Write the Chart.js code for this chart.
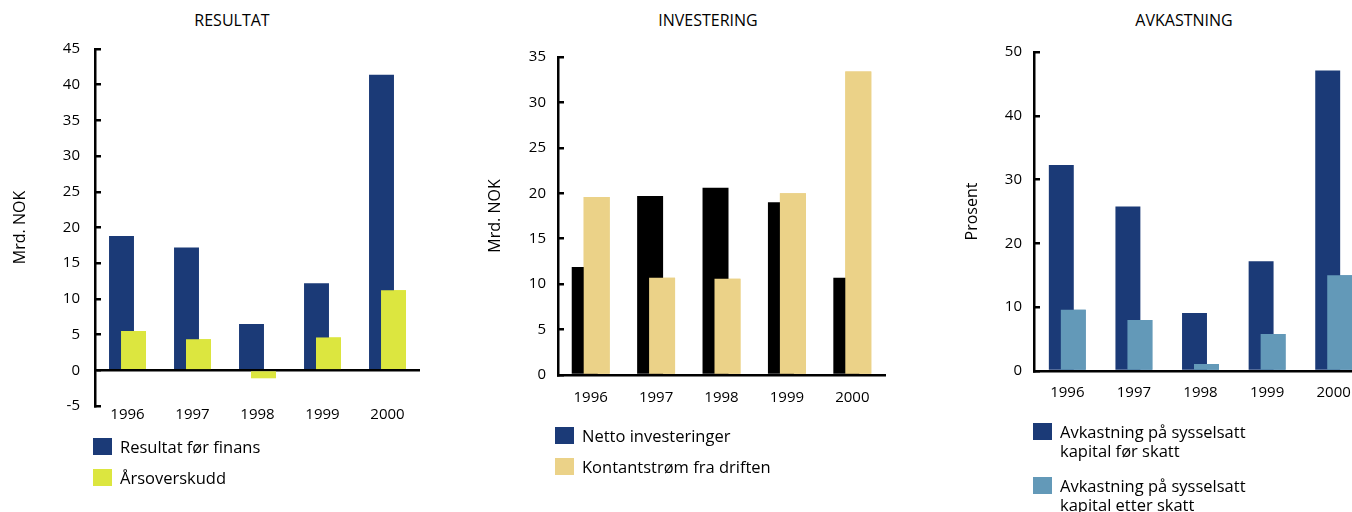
<!DOCTYPE html>
<html>
<head>
<meta charset="utf-8">
<script src="https://cdn.jsdelivr.net/npm/chart.js@4.4.1/dist/chart.umd.min.js"></script>
<style>
    html, body { margin: 0; padding: 0; background: #fff; }
    body { width: 1352px; height: 512px; position: relative; overflow: hidden; font-family: "Open Sans", sans-serif; color: #000; }
    canvas { position: absolute; top: 0; }
    .title { position: absolute; top: 10px; font-size: 16px; line-height: 20px; transform: translateX(-50%); white-space: nowrap; }
    .legend-item { position: absolute; display: flex; align-items: flex-start; font-size: 16.5px; line-height: 18.5px; white-space: nowrap; }
    .swatch { width: 19px; height: 17px; margin-right: 8px; flex: none; }
</style>
</head>
<body>
<div class="title" style="left:232px">RESULTAT</div>
<div class="title" style="left:708px">INVESTERING</div>
<div class="title" style="left:1184px">AVKASTNING</div>

<canvas id="resultatChart" width="450" height="440" style="left:0px"></canvas>
<canvas id="investeringChart" width="440" height="440" style="left:470px"></canvas>
<canvas id="avkastningChart" width="430" height="440" style="left:940px"></canvas>

<div class="legend-item" style="left:93px;top:438px"><span class="swatch" style="background:#1b3a77"></span><span>Resultat før finans</span></div>
<div class="legend-item" style="left:93px;top:469px"><span class="swatch" style="background:#dce63f"></span><span>Årsoverskudd</span></div>

<div class="legend-item" style="left:555px;top:427px"><span class="swatch" style="background:#1b3a77"></span><span>Netto investeringer</span></div>
<div class="legend-item" style="left:555px;top:458px"><span class="swatch" style="background:#ebd288"></span><span>Kontantstrøm fra driften</span></div>

<div class="legend-item" style="left:1033px;top:423px"><span class="swatch" style="background:#1b3a77"></span><span>Avkastning på sysselsatt<br>kapital før skatt</span></div>
<div class="legend-item" style="left:1033px;top:477px"><span class="swatch" style="background:#6399b8"></span><span>Avkastning på sysselsatt<br>kapital etter skatt</span></div>

<script>
    // Values
    const years = ["1996", "1997", "1998", "1999", "2000"];

    // RESULTAT (Mrd. NOK)
    const resultatForFinans = [18.8, 17.2, 6.5, 12.2, 41.4];
    const arsoverskudd = [5.5, 4.35, -1.1, 4.6, 11.2];
    const resultatTicks = { min: -5, max: 45, step: 5 };

    // INVESTERING (Mrd. NOK)
    const nettoInvesteringer = [11.9, 19.7, 20.6, 19.0, 10.7];
    const kontantstromDriften = [19.6, 10.7, 10.6, 20.0, 33.4];
    const investeringTicks = { min: 0, max: 35, step: 5 };

    // AVKASTNING (Prosent)
    const avkastningForSkatt = [32.3, 25.8, 9.1, 17.2, 47.1];
    const avkastningEtterSkatt = [9.6, 8.0, 1.1, 5.8, 15.0];
    const avkastningTicks = { min: 0, max: 50, step: 10 };

    Chart.defaults.font.family = "'Open Sans', sans-serif";
    Chart.defaults.color = "#000";

    // the right-hand bar of each pair sits over the left one
    const secondOnTop = {
        id: "secondOnTop",
        afterDatasetsDraw(chart) {
            const ctx = chart.ctx;
            ctx.save();
            chart.getDatasetMeta(1).data.forEach(bar => bar.draw(ctx));
            ctx.restore();
        }
    };

    function buildPanel(canvasId, cfg) {
        return new Chart(document.getElementById(canvasId), {
            type: "bar",
            data: {
                labels: years,
                datasets: cfg.series.map(s => ({
                    label: s.label,
                    data: s.data,
                    backgroundColor: s.color,
                    borderWidth: 0,
                    categoryPercentage: cfg.catPct,
                    barPercentage: cfg.barPct
                }))
            },
            options: {
                responsive: false,
                animation: false,
                events: [],
                layout: { padding: { top: cfg.top, right: cfg.right, bottom: 0, left: 0 } },
                plugins: { legend: { display: false }, tooltip: { enabled: false } },
                scales: {
                    x: {
                        offset: true,
                        z: 1,
                        grid: { display: false, drawTicks: false },
                        border: { display: cfg.xBorder, color: "#000", width: 2.5 },
                        ticks: { padding: cfg.xPad, font: { size: 15 }, maxRotation: 0 },
                        afterFit: s => { s.height = cfg.xHeight; }
                    },
                    y: {
                        min: cfg.ticks.min,
                        max: cfg.ticks.max,
                        z: 1,
                        ticks: { stepSize: cfg.ticks.step, padding: cfg.yPad, font: { size: 15 } },
                        border: { color: "#000", width: 2.5 },
                        grid: {
                            drawOnChartArea: cfg.zeroLine,
                            color: c => (c.tick && c.tick.value === 0 ? "#000" : "rgba(0,0,0,0)"),
                            lineWidth: 2.5,
                            tickLength: -6,
                            tickColor: "#000",
                            tickWidth: 2.5
                        },
                        title: { display: true, text: cfg.yTitle, font: { size: 16 }, padding: { top: cfg.titlePad, bottom: 0 } },
                        afterFit: s => { s.width = cfg.yWidth; }
                    }
                }
            },
            plugins: [secondOnTop]
        });
    }

    buildPanel("resultatChart", {
        series: [
            { label: "Resultat før finans", data: resultatForFinans, color: "#1b3a77" },
            { label: "Årsoverskudd", data: arsoverskudd, color: "#dce63f" }
        ],
        ticks: resultatTicks,
        yTitle: "Mrd. NOK",
        catPct: 0.369, barPct: 2.08,
        top: 49, right: 30, yWidth: 95, xHeight: 34,
        xPad: 0, yPad: 21, titlePad: 11,
        xBorder: false, zeroLine: true
    });

    buildPanel("investeringChart", {
        series: [
            { label: "Netto investeringer", data: nettoInvesteringer, color: "#000000" },
            { label: "Kontantstrøm fra driften", data: kontantstromDriften, color: "#ebd288" }
        ],
        ticks: investeringTicks,
        yTitle: "Mrd. NOK",
        catPct: 0.366, barPct: 2.17,
        top: 57, right: 25, yWidth: 88, xHeight: 65,
        xPad: 14, yPad: 18, titlePad: 16,
        xBorder: true, zeroLine: false
    });

    buildPanel("avkastningChart", {
        series: [
            { label: "Avkastning på sysselsatt kapital før skatt", data: avkastningForSkatt, color: "#1b3a77" },
            { label: "Avkastning på sysselsatt kapital etter skatt", data: avkastningEtterSkatt, color: "#6399b8" }
        ],
        ticks: avkastningTicks,
        yTitle: "Prosent",
        catPct: 0.36, barPct: 2.08,
        top: 52, right: 3, yWidth: 94, xHeight: 69,
        xPad: 13, yPad: 18, titlePad: 23,
        xBorder: true, zeroLine: false
    });
</script>
</body>
</html>
